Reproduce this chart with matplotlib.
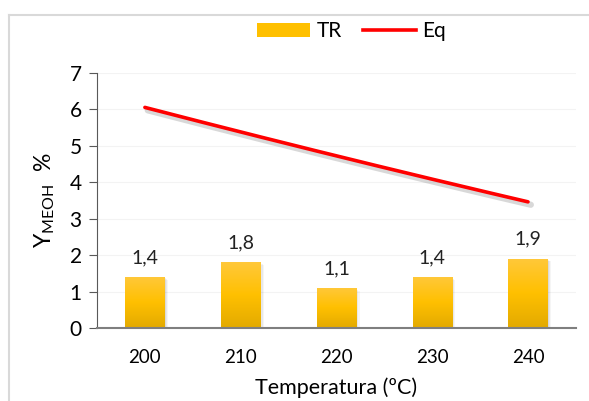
import numpy as np
import matplotlib
matplotlib.use("Agg")
import matplotlib.pyplot as plt
from matplotlib.patches import Rectangle, Patch
from matplotlib.lines import Line2D
from matplotlib.colors import LinearSegmentedColormap

# Data
temperatures = ["200", "210", "220", "230", "240"]
tr_values = [1.4, 1.8, 1.1, 1.4, 1.9]
eq_values = [6.07, 5.35, 4.73, 4.11, 3.45]

plt.rcParams['font.family'] = ['Lato', 'DejaVu Sans']

fig = plt.figure(figsize=(5.89, 4.01), dpi=100)
ax = fig.add_axes([0.1647, 0.182, 0.813, 0.636])

x = np.arange(len(temperatures))
bar_w = 0.41

# gradient colormap for the bars (light top, darker bottom)
grad = LinearSegmentedColormap.from_list("gold", ["#E3AA00", "#FFC000", "#FFC83A"])
gvals = np.linspace(0, 1, 64).reshape(-1, 1)

for xi, v in zip(x, tr_values):
    # soft shadow
    for k, a in enumerate([0.06, 0.05, 0.04]):
        d = 0.012 + k * 0.012
        ax.add_patch(Rectangle((xi - bar_w / 2 + d, 0), bar_w, v - d * 2,
                               facecolor="black", alpha=a, edgecolor="none", zorder=1))
    rect = Rectangle((xi - bar_w / 2, 0), bar_w, v, facecolor="none",
                     edgecolor="none", zorder=2)
    ax.add_patch(rect)
    im = ax.imshow(gvals, cmap=grad, origin="lower", aspect="auto",
                   extent=(xi - bar_w / 2, xi + bar_w / 2, 0, v), zorder=2)
    im.set_clip_path(rect)
    ax.text(xi, v + 0.3, f"{v:.1f}".replace(".", ","), ha="center", va="bottom",
            fontsize=14, color="#222222", zorder=4)

# smoothed equilibrium curve
xs = np.linspace(0, len(x) - 1, 200)
coef = np.polyfit(x, eq_values, 2)
ys = np.polyval(coef, xs)
ax.plot(xs + 0.03, ys - 0.08, color="gray", lw=4.5, alpha=0.3, zorder=2,
        solid_capstyle="round")
ax.plot(xs, ys, color="#FF0000", lw=2.6, zorder=3, solid_capstyle="round")

ax.set_xlim(-0.5, len(x) - 0.5)
ax.set_ylim(0, 7)
ax.set_yticks(range(0, 8))
ax.set_xticks(x)
ax.set_xticklabels(temperatures)
ax.tick_params(axis="y", labelsize=15, length=6, color="#595959", pad=5)
ax.tick_params(axis="x", labelsize=13.5, length=0, pad=15)
for spine in ["top", "right"]:
    ax.spines[spine].set_visible(False)
ax.spines["left"].set_color("#595959")
ax.spines["bottom"].set_color("#7f7f7f")
ax.spines["bottom"].set_linewidth(1.5)
ax.grid(axis="y", color="#f3f3f3", lw=0.8)
ax.set_axisbelow(True)

ax.set_xlabel("Temperatura (ºC)", fontsize=15.5, labelpad=8)
ax.set_ylabel(r"Y$_{\mathregular{MEOH}}$  %", fontsize=16.5, labelpad=9)

handles = [Patch(facecolor="#FFC000", edgecolor="none"),
           Line2D([0], [0], color="#FF0000", lw=2.6)]
fig.legend(handles, ["TR", "Eq"], loc="center", bbox_to_anchor=(0.597, 0.922),
           ncol=2, frameon=False, fontsize=15, handlelength=2.55,
           handletextpad=0.3, columnspacing=1.0)

# outer chart frame
fig.add_artist(Line2D([9 / 589, 1], [1 - 15 / 401] * 2, color="#d9d9d9", lw=1.5,
                      transform=fig.transFigure))
fig.add_artist(Line2D([9 / 589] * 2, [0, 1 - 15 / 401], color="#d9d9d9", lw=1.5,
                      transform=fig.transFigure))

fig.savefig("out.png", dpi=100)
